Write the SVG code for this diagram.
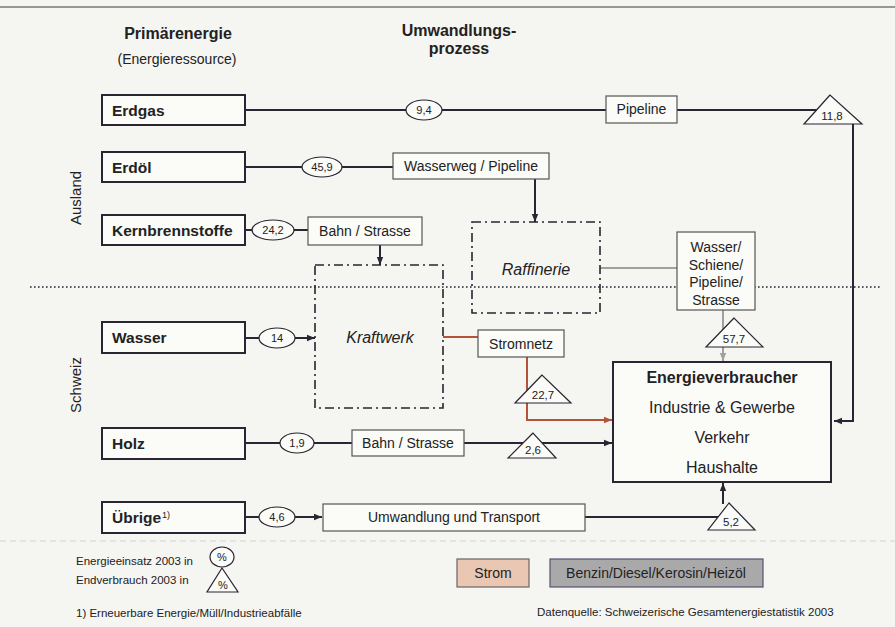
<svg xmlns="http://www.w3.org/2000/svg" width="895" height="627" viewBox="0 0 895 627">
<defs>
<style>
text{font-family:"Liberation Sans",Arial,sans-serif;fill:#222;}
.hd{font-size:16px;font-weight:bold;text-anchor:middle;}
.src{fill:#fbfbf8;stroke:#2a2433;stroke-width:2;}
.srct{font-size:15.5px;font-weight:bold;}
.proc{fill:#fbfbf8;stroke:#555;stroke-width:1.2;}
.pt{font-size:14px;text-anchor:middle;}
.ell{fill:#fbfbf8;stroke:#2a2433;stroke-width:1.2;}
.et{font-size:11px;text-anchor:middle;}
.tri{fill:#fbfbf8;stroke:#2a2433;stroke-width:1.2;}
.tt{font-size:11.5px;text-anchor:middle;}
.dd{fill:none;stroke:#2a2433;stroke-width:1.6;stroke-dasharray:9,4,2,4;}
.it{font-size:16px;font-style:italic;text-anchor:middle;}
.ln{fill:none;stroke:#2a2433;stroke-width:2;}
.red{fill:none;stroke:#b5533a;stroke-width:2;}
.gray{fill:none;stroke:#a0a0a0;stroke-width:2;}
.sm{font-size:11.5px;}
</style>
<marker id="ah" viewBox="0 0 10 10" refX="10" refY="5" markerWidth="8" markerHeight="8" markerUnits="userSpaceOnUse" orient="auto"><path d="M0,1 L10,5 L0,9 z" fill="#2a2433"/></marker>
<marker id="ahr" viewBox="0 0 10 10" refX="10" refY="5" markerWidth="8" markerHeight="8" markerUnits="userSpaceOnUse" orient="auto"><path d="M0,1 L10,5 L0,9 z" fill="#b5533a"/></marker>
<marker id="ahg" viewBox="0 0 10 10" refX="10" refY="5" markerWidth="8" markerHeight="8" markerUnits="userSpaceOnUse" orient="auto"><path d="M0,1 L10,5 L0,9 z" fill="#a0a0a0"/></marker>
</defs>
<rect x="0" y="0" width="895" height="627" fill="#f5f5f1"/>
<line x1="0" y1="7" x2="895" y2="7" stroke="#777" stroke-width="1.5"/>
<line x1="0" y1="541" x2="895" y2="541" stroke="#d2d2d0" stroke-width="1" stroke-dasharray="6,4"/>

<g id="headers">
<text class="hd" x="178" y="39">Primärenergie</text>
<text x="177" y="64" font-size="14px" text-anchor="middle">(Energieressource)</text>
<text class="hd" x="459" y="36" font-size="15.5px">Umwandlungs-</text>
<text class="hd" x="459" y="54" font-size="15.5px">prozess</text>
<text x="81" y="198" font-size="15px" text-anchor="middle" transform="rotate(-90 81 198)">Ausland</text>
<text x="81" y="385" font-size="15px" text-anchor="middle" transform="rotate(-90 81 385)">Schweiz</text>
</g>

<line x1="30" y1="287" x2="880" y2="287" stroke="#2a2433" stroke-width="1.6" stroke-dasharray="1.6,2.4"/>

<g id="connectors">
<line class="ln" x1="245" y1="110" x2="818" y2="110"/>
<polyline class="ln" points="853,124 853,421 834,421" marker-end="url(#ah)"/>
<line class="ln" x1="245" y1="167" x2="393" y2="167"/>
<line class="ln" x1="535" y1="179" x2="535" y2="222" marker-end="url(#ah)"/>
<line class="ln" x1="245" y1="230" x2="308" y2="230"/>
<line class="ln" x1="380" y1="245" x2="380" y2="265" marker-end="url(#ah)"/>
<line class="gray" x1="600" y1="268" x2="677" y2="268"/>
<line class="gray" x1="723" y1="310" x2="723" y2="361" marker-end="url(#ahg)"/>
<line class="ln" x1="245" y1="338" x2="315" y2="338" marker-end="url(#ah)"/>
<line class="red" x1="443" y1="337" x2="478" y2="337"/>
<polyline class="red" points="527,357 527,420 612,420" marker-end="url(#ahr)"/>
<line class="ln" x1="245" y1="443" x2="612" y2="443" marker-end="url(#ah)"/>
<line class="ln" x1="245" y1="517" x2="322" y2="517" marker-end="url(#ah)"/>
<line class="ln" x1="585" y1="517" x2="720" y2="517"/>
<line class="ln" x1="723" y1="504" x2="723" y2="483" marker-end="url(#ah)"/>
</g>

<g id="erdgas"><rect class="src" x="102" y="95" width="143" height="30"/><text class="srct" x="112" y="116">Erdgas</text></g>
<g id="erdoel"><rect class="src" x="102" y="152" width="143" height="30"/><text class="srct" x="112" y="173">Erdöl</text></g>
<g id="kern"><rect class="src" x="102" y="215" width="143" height="30"/><text class="srct" x="112" y="236">Kernbrennstoffe</text></g>
<g id="wasser"><rect class="src" x="102" y="322" width="143" height="31"/><text class="srct" x="112" y="343">Wasser</text></g>
<g id="holz"><rect class="src" x="102" y="428" width="143" height="31"/><text class="srct" x="112" y="449">Holz</text></g>
<g id="uebrige"><rect class="src" x="102" y="502" width="143" height="31"/><text class="srct" x="112" y="523">Übrige<tspan font-size="9px" font-weight="normal" dx="1" dy="-5">1)</tspan></text></g>

<g id="e-erdgas"><ellipse class="ell" cx="424" cy="110" rx="18" ry="10"/><text class="et" x="424" y="114">9,4</text></g>
<g id="e-erdoel"><ellipse class="ell" cx="322" cy="167" rx="20" ry="10"/><text class="et" x="322" y="171">45,9</text></g>
<g id="e-kern"><ellipse class="ell" cx="273" cy="230" rx="21" ry="10"/><text class="et" x="273" y="234">24,2</text></g>
<g id="e-wasser"><ellipse class="ell" cx="277" cy="338" rx="18" ry="10"/><text class="et" x="277" y="342">14</text></g>
<g id="e-holz"><ellipse class="ell" cx="297" cy="443" rx="17" ry="10"/><text class="et" x="297" y="447">1,9</text></g>
<g id="e-uebrige"><ellipse class="ell" cx="277" cy="517" rx="18" ry="10"/><text class="et" x="277" y="521">4,6</text></g>

<g id="pipeline"><rect class="proc" x="606" y="96" width="71" height="27"/><text class="pt" x="641.5" y="114">Pipeline</text></g>
<g id="wasserweg"><rect class="proc" x="393" y="153" width="156" height="26"/><text class="pt" x="471" y="171">Wasserweg / Pipeline</text></g>
<g id="bahn1"><rect class="proc" x="308" y="217" width="114" height="28"/><text class="pt" x="365" y="236">Bahn / Strasse</text></g>
<g id="raffinerie"><rect class="dd" x="472" y="222" width="128" height="91"/><text class="it" x="536" y="275">Raffinerie</text></g>
<g id="kraftwerk"><rect class="dd" x="315" y="265" width="128" height="143"/><text class="it" x="380" y="343">Kraftwerk</text></g>
<g id="transport"><rect class="proc" x="677" y="232" width="78" height="78"/>
<text class="pt" x="716" y="252">Wasser/</text><text class="pt" x="716" y="270">Schiene/</text><text class="pt" x="716" y="287">Pipeline/</text><text class="pt" x="716" y="305">Strasse</text></g>
<g id="stromnetz"><rect class="proc" x="478" y="330" width="86" height="27"/><text class="pt" x="521" y="349">Stromnetz</text></g>
<g id="bahn2"><rect class="proc" x="352" y="430" width="112" height="26"/><text class="pt" x="408" y="448">Bahn / Strasse</text></g>
<g id="umwandlung"><rect class="proc" x="323" y="504" width="262" height="27"/><text class="pt" x="454" y="522">Umwandlung und Transport</text></g>

<g id="t-118"><polygon class="tri" points="830,95 804,124 862,124"/><text class="tt" x="832" y="120">11,8</text></g>
<g id="t-577"><polygon class="tri" points="734,318 706,347 763,347"/><text class="tt" x="734" y="343">57,7</text></g>
<g id="t-227"><polygon class="tri" points="542,375 515,403 571,403"/><text class="tt" x="543" y="399">22,7</text></g>
<g id="t-26"><polygon class="tri" points="533,433 508,458 556,458"/><text class="tt" x="533" y="454">2,6</text></g>
<g id="t-52"><polygon class="tri" points="729,503 708,530 755,530"/><text class="tt" x="731" y="526">5,2</text></g>

<g id="verbraucher"><rect class="src" x="613" y="362" width="218" height="120"/>
<text x="722" y="383" font-size="16px" font-weight="bold" text-anchor="middle">Energieverbraucher</text>
<text x="722" y="413" font-size="16px" text-anchor="middle">Industrie &amp; Gewerbe</text>
<text x="722" y="443" font-size="16px" text-anchor="middle">Verkehr</text>
<text x="722" y="473" font-size="16px" text-anchor="middle">Haushalte</text></g>

<g id="legend">
<text class="sm" x="76" y="565">Energieeinsatz 2003 in</text>
<ellipse class="ell" cx="222" cy="557" rx="12" ry="10"/><text class="et" x="222" y="561">%</text>
<text class="sm" x="76" y="584">Endverbrauch 2003 in</text>
<polygon class="tri" points="222,568 207,592 238,592"/><text class="et" x="223" y="589">%</text>
<text class="sm" x="76" y="617">1) Erneuerbare Energie/Müll/Industrieabfälle</text>
<rect x="457" y="559" width="72" height="28" fill="#e9c7b3" stroke="#6d6464" stroke-width="1.2"/>
<text class="pt" x="493" y="578">Strom</text>
<rect x="550" y="559" width="213" height="28" fill="#a9a9a9" stroke="#5b5070" stroke-width="1.2"/>
<text class="pt" x="656" y="578">Benzin/Diesel/Kerosin/Heizöl</text>
<text class="sm" x="537" y="616">Datenquelle: Schweizerische Gesamtenergiestatistik 2003</text>
</g>
</svg>
